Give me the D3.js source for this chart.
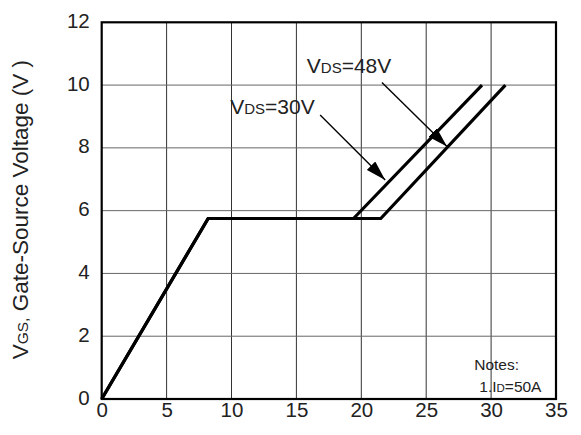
<!DOCTYPE html>
<html>
<head>
<meta charset="utf-8">
<script src="https://cdn.jsdelivr.net/npm/d3@7"></script>
<style>
  body { margin: 0; background: #fff; }
  svg text { font-family: "Liberation Sans", Arial, sans-serif; fill: #222; }
</style>
</head>
<body>
<div id="chart"></div>
<script>
// gate charge curves (x: Qg, y: VGS)
const vds30 = [[0, 0], [8.2, 5.75], [19.4, 5.75], [29.3, 10]];
const vds48 = [[0, 0], [8.2, 5.75], [21.5, 5.75], [31.1, 10]];
const xTicks = [0, 5, 10, 15, 20, 25, 30, 35];
const yTicks = [0, 2, 4, 6, 8, 10, 12];

// label anchor + arrow start/tip, in data units
const labels = [
  {sub: "DS", rest: "=30V", at: [9.9, 9.08], from: [16.83, 9.05], to: [21.84, 6.98]},
  {sub: "DS", rest: "=48V", at: [15.8, 10.39], from: [21.59, 10.08], to: [26.6, 8.04]}
];

const W = 581, H = 435;
const margin = {top: 22.3, right: 25, bottom: 36, left: 101.7},
    width = W - margin.left - margin.right,
    height = H - margin.top - margin.bottom;

const root = d3.select("#chart").append("svg")
    .attr("width", W)
    .attr("height", H);

root.append("defs").append("marker")
    .attr("id", "head")
    .attr("markerUnits", "userSpaceOnUse")
    .attr("viewBox", "0 0 20 12")
    .attr("refX", 20).attr("refY", 6)
    .attr("markerWidth", 20).attr("markerHeight", 12)
    .attr("orient", "auto")
  .append("path")
    .attr("d", "M0,0 L20,6 L0,12 Z")
    .attr("fill", "#000");

const svg = root.append("g")
    .attr("transform", `translate(${margin.left},${margin.top})`);

const x = d3.scaleLinear().domain([0, 35]).range([0, width]);
const y = d3.scaleLinear().domain([0, 12]).range([height, 0]);

// grid
svg.append("g").selectAll("line")
  .data(xTicks.slice(1, -1))
  .join("line")
    .attr("x1", d => x(d)).attr("x2", d => x(d))
    .attr("y1", 0).attr("y2", height)
    .attr("stroke", "#333").attr("stroke-width", 1);
svg.append("g").selectAll("line")
  .data(yTicks.slice(1, -1))
  .join("line")
    .attr("x1", 0).attr("x2", width)
    .attr("y1", d => y(d)).attr("y2", d => y(d))
    .attr("stroke", "#666").attr("stroke-width", 1);

// axes, labels only
const xAxis = svg.append("g")
    .attr("transform", `translate(0,${height})`)
    .call(d3.axisBottom(x).tickValues(xTicks).tickSize(0).tickPadding(3));
const yAxis = svg.append("g")
    .call(d3.axisLeft(y).tickValues(yTicks).tickSize(0).tickPadding(12));
[xAxis, yAxis].forEach(a => {
  a.select(".domain").remove();
  a.selectAll("text")
    .style("font-family", '"Liberation Sans", Arial, sans-serif')
    .style("font-size", "20.5px")
    .attr("fill", "#222");
});
yAxis.selectAll("text").attr("dy", "0.25em");

// frame
svg.append("rect")
    .attr("width", width).attr("height", height)
    .attr("fill", "none")
    .attr("stroke", "#000").attr("stroke-width", 2.2);

// curves
const line = d3.line().x(d => x(d[0])).y(d => y(d[1]));
svg.selectAll("path.curve")
  .data([vds30, vds48])
  .join("path")
    .attr("class", "curve")
    .attr("d", line)
    .attr("fill", "none")
    .attr("stroke", "#000")
    .attr("stroke-width", 3.2)
    .attr("stroke-linejoin", "miter");

// annotations
labels.forEach(l => {
  const t = svg.append("text")
      .attr("x", x(l.at[0])).attr("y", y(l.at[1]))
      .style("font-size", "21px");
  t.append("tspan").text("V");
  t.append("tspan").text(l.sub).style("font-size", "15px");
  t.append("tspan").text(l.rest);
  svg.append("line")
      .attr("x1", x(l.from[0])).attr("y1", y(l.from[1]))
      .attr("x2", x(l.to[0])).attr("y2", y(l.to[1]))
      .attr("stroke", "#000").attr("stroke-width", 1.4)
      .attr("marker-end", "url(#head)");
});

// notes
svg.append("text")
    .attr("x", x(28.7)).attr("y", y(0.92))
    .style("font-size", "15.5px")
    .text("Notes:");
const n2 = svg.append("text")
    .attr("x", x(29.09)).attr("y", y(0.23))
    .style("font-size", "15.5px");
n2.append("tspan").text("1.I");
n2.append("tspan").text("D").style("font-size", "11.5px");
n2.append("tspan").text("=50A");

// y title
const yt = root.append("text")
    .attr("transform", `translate(28,${margin.top + height / 2 - 1}) rotate(-90)`)
    .attr("text-anchor", "middle")
    .style("font-size", "22.5px");
yt.append("tspan").text("V");
yt.append("tspan").text("GS,").style("font-size", "15.5px");
yt.append("tspan").text(" Gate-Source Voltage (V )");
</script>
</body>
</html>
